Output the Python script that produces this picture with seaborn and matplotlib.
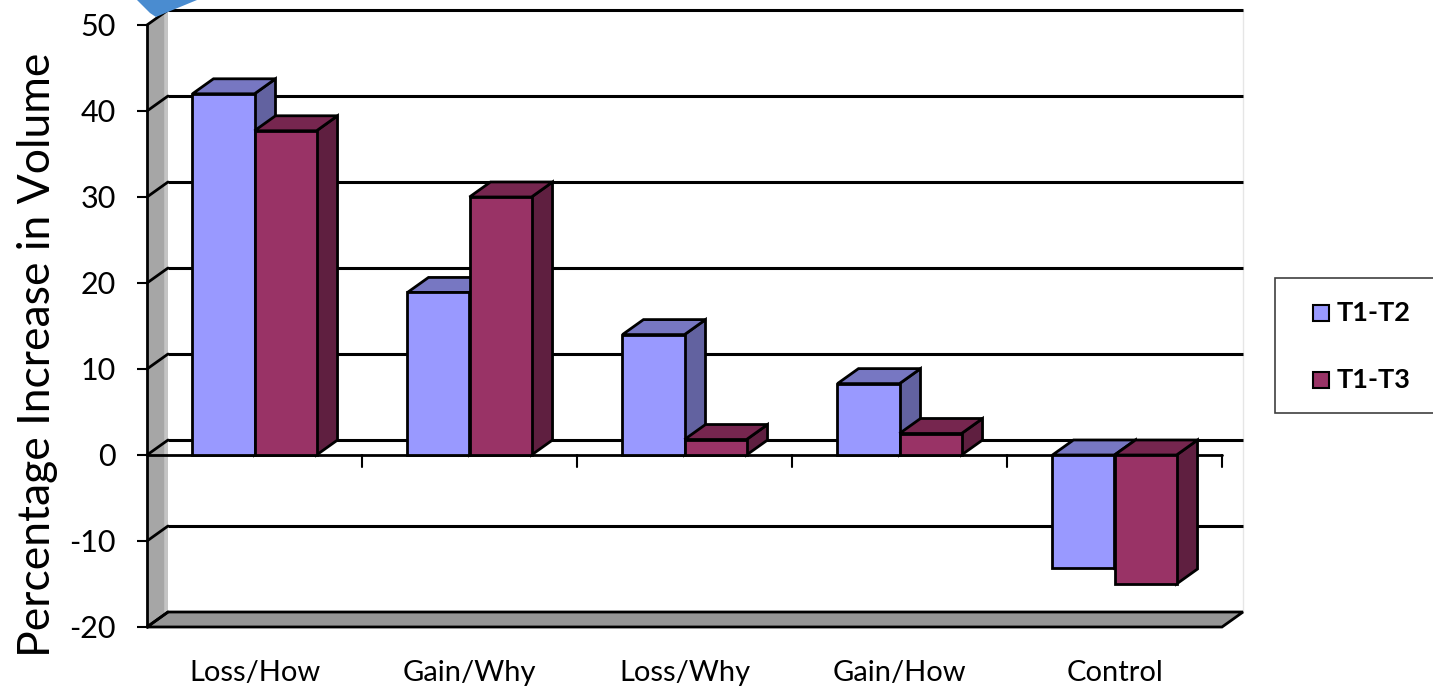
import matplotlib
matplotlib.use("Agg")
import matplotlib.pyplot as plt
from matplotlib.patches import Polygon, Rectangle
import seaborn as sns
import pandas as pd

# ---- data ----
categories = ["Loss/How", "Gain/Why", "Loss/Why", "Gain/How", "Control"]
series_names = ["T1-T2", "T1-T3"]
t1_t2 = [42.0, 18.9, 14.0, 8.3, -13.1]
t1_t3 = [37.7, 30.0, 1.8, 2.5, -15.0]
y_ticks = [-20, -10, 0, 10, 20, 30, 40, 50]

front_colors = ["#9999FF", "#993366"]
top_colors = ["#7777C2", "#76264F"]
side_colors = ["#6262A0", "#5F1F40"]

df = pd.DataFrame({
    "category": categories * 2,
    "series": [series_names[0]] * len(categories) + [series_names[1]] * len(categories),
    "value": t1_t2 + t1_t3,
})

sns.set_theme(style="white")
plt.rcParams["font.family"] = ["Lato", "DejaVu Sans"]

W, H = 1433, 688
fig = plt.figure(figsize=(W / 100, H / 100), dpi=100)

# plot area (front plane) in pixel coordinates
x0, x1, ytop, ybot = 147, 1222, 25, 627
ax = fig.add_axes([x0 / W, 1 - ybot / H, (x1 - x0) / W, (ybot - ytop) / H])
ax.set_xlim(-0.5, len(categories) - 0.5)
ax.set_ylim(-20, 50)
ax.patch.set_alpha(0)
for s in ax.spines.values():
    s.set_visible(False)

# depth of the 3-D box, in pixels
DX, DY = 21, 15
sx = (x1 - x0) / len(categories)      # pixels per category
sy = (ybot - ytop) / 70.0              # pixels per unit
ddx, ddy = DX / sx, DY / sy            # depth in data units

# ---- walls ----
# back-wall gridlines
for v in y_ticks[1:]:
    ax.plot([-0.5 + ddx, 4.5 + ddx], [v + ddy, v + ddy], color="black", lw=2.2,
            zorder=1, solid_capstyle="butt", clip_on=False)
# back wall right edge (faint)
ax.plot([4.5 + ddx, 4.5 + ddx], [-20 + ddy, 50 + ddy], color="#e6e6e6", lw=1, zorder=0.9,
        clip_on=False)

# left side wall
ax.add_patch(Polygon([[-0.5, -20], [-0.5, 50], [-0.5 + ddx, 50 + ddy], [-0.5 + ddx, -20 + ddy]],
                     closed=True, facecolor="#a6a6a6", edgecolor="none", zorder=1.5, clip_on=False))
ax.add_patch(Polygon([[-0.5 + ddx * 0.82, -20 + ddy * 0.82], [-0.5 + ddx * 0.82, 50 + ddy * 0.82],
                      [-0.5 + ddx, 50 + ddy], [-0.5 + ddx, -20 + ddy]],
                     closed=True, facecolor="#c4c4c4", edgecolor="none", zorder=1.6, clip_on=False))
for v in y_ticks:
    ax.plot([-0.5, -0.5 + ddx], [v, v + ddy], color="black", lw=2.0, zorder=1.8, clip_on=False)

# floor
ax.add_patch(Polygon([[-0.5, -20], [-0.5 + ddx, -20 + ddy], [4.5 + ddx, -20 + ddy], [4.5, -20]],
                     closed=True, facecolor="#969696", edgecolor="black", lw=2.0, zorder=1.7,
                     joinstyle="miter", clip_on=False))

# value axis line and ticks
ax.plot([-0.5, -0.5], [-20, 50], color="black", lw=2.0, zorder=2, clip_on=False)
ax.set_yticks(y_ticks)
ax.set_yticklabels([str(v) for v in y_ticks], fontsize=22)
ax.tick_params(axis="y", which="both", left=True, length=7.5, width=1.5, color="black", pad=15,
               labelcolor="black")

# category axis at zero with boundary ticks
ax.plot([-0.5, 4.5], [0, 0], color="black", lw=2.0, zorder=2, clip_on=False)
tick_len = 12 / sy
for k in range(len(categories)):
    ax.plot([k + 0.5, k + 0.5], [0, -tick_len], color="black", lw=1.5, zorder=2, clip_on=False)

ax.set_xticks(range(len(categories)))
ax.set_xticklabels(categories, fontsize=21)
ax.tick_params(axis="x", which="both", bottom=False, pad=18, labelcolor="black")

# ---- bars (front faces) ----
sns.barplot(data=df, x="category", y="value", hue="series", order=categories,
            hue_order=series_names, palette=front_colors, width=0.577, dodge=True,
            edgecolor="black", linewidth=2.0, legend=False, ax=ax, saturation=1)
ax.set_xlim(-0.5, len(categories) - 0.5)
ax.set_ylim(-20, 50)
ax.set_xlabel("")
ax.set_ylabel("Percentage Increase in Volume", fontsize=32, color="black")
ax.yaxis.set_label_coords(-0.083, 0.452)

# ---- 3-D top and side faces ----
for hi, cont in enumerate(ax.containers):
    for ci, bar in enumerate(cont):
        bx, bw = bar.get_x(), bar.get_width()
        lo = min(bar.get_y(), bar.get_y() + bar.get_height())
        hi_v = max(bar.get_y(), bar.get_y() + bar.get_height())
        z = 3 + ci * 2 + hi * 0.5
        top = Polygon([[bx, hi_v], [bx + ddx, hi_v + ddy], [bx + bw + ddx, hi_v + ddy], [bx + bw, hi_v]],
                      closed=True, facecolor=top_colors[hi], edgecolor="black", lw=2.0, zorder=z,
                      joinstyle="miter", clip_on=False)
        side = Polygon([[bx + bw, lo], [bx + bw, hi_v], [bx + bw + ddx, hi_v + ddy], [bx + bw + ddx, lo + ddy]],
                       closed=True, facecolor=side_colors[hi], edgecolor="black", lw=2.0, zorder=z,
                       joinstyle="miter", clip_on=False)
        ax.add_patch(side)
        ax.add_patch(top)
        bar.set_zorder(z + 0.1)
        bar.set_joinstyle("miter")

# ---- legend ----
fig.patches.append(Rectangle((1275 / W, 1 - 413 / H), 200 / W, 135 / H, transform=fig.transFigure,
                             facecolor="white", edgecolor="#404040", lw=1.2))
for i, (name, y) in enumerate(zip(series_names, [313, 380])):
    fig.patches.append(Rectangle((1313 / W, 1 - (y + 8) / H), 16 / W, 16 / H, transform=fig.transFigure,
                                 facecolor=front_colors[i], edgecolor="black", lw=1.5))
    fig.text(1337 / W, 1 - y / H, name, fontsize=19.5, fontweight="bold", va="center", ha="left",
             color="black")

# decorative corner shape
fig.patches.append(Polygon([[137 / W, 1.0], [150 / W, 1 - 13 / H], [156 / W, 1 - 17 / H],
                            [163 / W, 1 - 14 / H], [197 / W, 1.0]], closed=True,
                           transform=fig.transFigure, facecolor="#4a8cd0", edgecolor="none"))

fig.savefig("out.png", dpi=100, facecolor="white")
